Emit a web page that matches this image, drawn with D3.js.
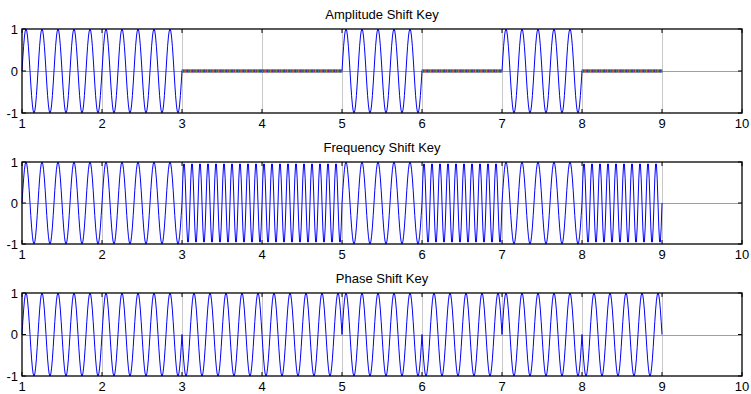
<!DOCTYPE html>
<html>
<head>
<meta charset="utf-8">
<script src="https://d3js.org/d3.v7.min.js"></script>
<style>
  body { margin: 0; background: #fff; }
  text { font-family: 'Liberation Sans', Arial, sans-serif; fill: #000; }
</style>
</head>
<body>
<div id="chart"></div>
<script>
// bit stream, one bit per unit of time starting at t = 1
var bits = [1, 1, 0, 0, 1, 0, 1, 0];
var titles = ["Amplitude Shift Key", "Frequency Shift Key", "Phase Shift Key"];
var xTicks = [1, 2, 3, 4, 5, 6, 7, 8, 9, 10];
var yTicks = [-1, 0, 1];
var cyclesOne = 5;     // carrier cycles per bit for a 1
var cyclesZero = 10;   // FSK carrier cycles per bit for a 0
var step = 0.01;       // sample spacing
// matlab default colour order, used for the ASK "zero" lines
var matlabColors = ["#0000ff", "#008000", "#ff0000", "#00bfbf", "#bf00bf", "#bfbf00", "#404040"];

var W = 751, H = 394;
var panels = [
  { top: 29, bottom: 113 },
  { top: 162, bottom: 244 },
  { top: 293, bottom: 376 }
];

var svg = d3.select("#chart").append("svg")
  .attr("width", W).attr("height", H);

var x = d3.scaleLinear().domain([1, 10]).range([22, 742]);

// build the three waveforms from the bits
function samples(kind) {
  var out = [];
  bits.forEach(function(b, i) {
    var pts = [];
    for (var k = 0; k <= 100; k++) {
      var tt = k * step, t = i + 1 + tt, v;
      if (kind == 0) v = b ? Math.sin(2 * Math.PI * cyclesOne * tt) : 0;
      else if (kind == 1) v = Math.sin(2 * Math.PI * (b ? cyclesOne : cyclesZero) * tt);
      else v = (b ? 1 : -1) * Math.sin(2 * Math.PI * cyclesOne * tt);
      pts.push([t, v]);
    }
    out.push({ pts: pts, zero: kind == 0 && !b });
  });
  return out;
}

panels.forEach(function(p, pi) {
  var y = d3.scaleLinear().domain([-1, 1]).range([p.bottom, p.top]);
  var g = svg.append("g");

  // grid
  g.selectAll("line.gx").data(xTicks.slice(1, -1)).enter().append("line")
    .attr("x1", d => Math.round(x(d)) + 0.5).attr("x2", d => Math.round(x(d)) + 0.5)
    .attr("y1", p.top).attr("y2", p.bottom)
    .attr("stroke", "#c8c8c8").attr("stroke-width", 1);
  g.append("line")
    .attr("x1", x(1)).attr("x2", x(10))
    .attr("y1", Math.round(y(0)) + 0.5).attr("y2", Math.round(y(0)) + 0.5)
    .attr("stroke", "#a0a0a0").attr("stroke-width", 1);

  // signal
  var line = d3.line().x(d => x(d[0])).y(d => y(d[1]));
  var segs = samples(pi);
  if (pi == 0) {
    // blue carrier where bits are one, colourful flat lines where zero
    var runs = [], cur = null;
    segs.forEach(function(s) {
      if (s.zero) { cur = null; return; }
      if (!cur) { cur = []; runs.push(cur); }
      cur.push.apply(cur, s.pts);
    });
    runs.forEach(function(r) {
      g.append("path").attr("d", line(r)).attr("fill", "none")
        .attr("stroke", "#0000ff").attr("stroke-width", 1);
    });
    segs.filter(s => s.zero).forEach(function(s) {
      var first = s.pts[0][0], last = s.pts[s.pts.length - 1][0];
      g.append("rect")
        .attr("x", x(first)).attr("y", y(0) - 1.5)
        .attr("width", x(last) - x(first)).attr("height", 3)
        .attr("fill", "#6a6070");
      g.selectAll(null).data(s.pts).enter().append("rect")
        .attr("x", d => x(d[0]) - 0.6).attr("y", y(0) - 1.5)
        .attr("width", 1.2).attr("height", 3)
        .attr("fill", (d, i) => matlabColors[(i * 3) % matlabColors.length])
        .attr("opacity", 0.55);
    });
  } else {
    var all = [];
    segs.forEach(s => all.push.apply(all, s.pts));
    g.append("path").attr("d", line(all)).attr("fill", "none")
      .attr("stroke", "#0000ff").attr("stroke-width", 1);
  }

  // box
  g.append("rect")
    .attr("x", x(1)).attr("y", p.top)
    .attr("width", x(10) - x(1)).attr("height", p.bottom - p.top)
    .attr("fill", "none").attr("stroke", "#000").attr("stroke-width", 1.3);

  // inner ticks on all four sides
  var tl = 4;
  xTicks.forEach(function(t) {
    g.append("line").attr("x1", x(t)).attr("x2", x(t)).attr("y1", p.bottom).attr("y2", p.bottom - tl).attr("stroke", "#000");
    g.append("line").attr("x1", x(t)).attr("x2", x(t)).attr("y1", p.top).attr("y2", p.top + tl).attr("stroke", "#000");
  });
  yTicks.forEach(function(t) {
    g.append("line").attr("x1", x(1)).attr("x2", x(1) + tl).attr("y1", y(t)).attr("y2", y(t)).attr("stroke", "#000");
    g.append("line").attr("x1", x(10)).attr("x2", x(10) - tl).attr("y1", y(t)).attr("y2", y(t)).attr("stroke", "#000");
  });

  // tick labels
  g.selectAll("text.xt").data(xTicks).enter().append("text")
    .attr("x", d => x(d)).attr("y", p.bottom + 15)
    .attr("text-anchor", "middle").attr("font-size", 13)
    .text(d => d);
  g.selectAll("text.yt").data(yTicks).enter().append("text")
    .attr("x", x(1) - 4).attr("y", d => y(d) + 4.5)
    .attr("text-anchor", "end").attr("font-size", 13)
    .text(d => d);

  g.append("text")
    .attr("x", (x(1) + x(10)) / 2).attr("y", p.top - 10)
    .attr("text-anchor", "middle").attr("font-size", 13)
    .text(titles[pi]);
});
</script>
</body>
</html>
